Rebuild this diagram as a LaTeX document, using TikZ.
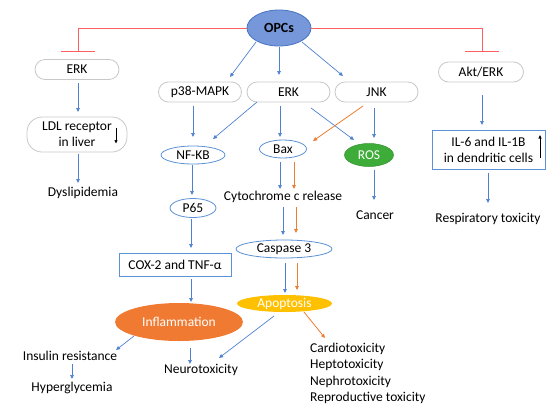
\documentclass[tikz,border=0pt]{standalone}
\usepackage{fontspec}
\setmainfont{Carlito}
\usetikzlibrary{shapes.geometric,arrows.meta,calc}
\definecolor{ablue}{RGB}{79,129,208}
\definecolor{aorange}{RGB}{237,125,49}
\definecolor{ared}{RGB}{255,95,95}
\definecolor{agray}{RGB}{200,200,200}
\definecolor{eblue}{RGB}{91,145,213}
\definecolor{opcfill}{RGB}{118,152,218}
\definecolor{opcdraw}{RGB}{68,114,196}
\definecolor{rosgreen}{RGB}{62,172,56}
\definecolor{inflor}{RGB}{240,122,50}
\definecolor{apopy}{RGB}{255,192,0}
\begin{document}
\begin{tikzpicture}[x=1pt,y=-1pt,
  every node/.style={font=\fontsize{13.5}{16}\selectfont, inner sep=0pt},
  gbox/.style={draw=agray, line width=0.8pt, rounded corners=10pt, minimum height=20pt},
  bell/.style={ellipse, draw=eblue, line width=0.8pt},
  brect/.style={draw=eblue, line width=0.9pt},
  barr/.style={draw=ablue, line width=0.7pt, -{Triangle[length=4pt,width=3.6pt]}},
  oarr/.style={draw=aorange, line width=0.8pt, -{Triangle[length=4pt,width=3.6pt]}},
  karr/.style={draw=black, line width=0.6pt, -{Triangle[length=3.5pt,width=3pt]}},
  inh/.style={draw=ared, line width=0.9pt, -{Bar[width=34pt,line width=0.9pt]}},
  wtxt/.style={text=white}
]
\useasboundingbox (0,0) rectangle (550,408);

% nodes
\node[ellipse, fill=opcfill, draw=opcdraw, line width=0.8pt, minimum width=64pt, minimum height=36pt,
      font=\fontsize{14}{16}\selectfont\bfseries] (opcs) at (279,28) {OPCs};
\node[gbox, minimum width=84pt] (erkL) at (77,69.5) {ERK};
\node[gbox, rounded corners=15pt, minimum width=100pt, minimum height=35pt, align=center] (ldl) at (77,134.5) {LDL receptor\\in liver};
\node (dys) at (83,193) {Dyslipidemia};
\node[gbox, minimum width=83pt] (p38) at (200,92) {p38-MAPK};
\node[gbox, minimum width=83pt] (erkM) at (288.5,92) {ERK};
\node[gbox, minimum width=83pt] (jnk) at (376.5,92) {JNK};
\node[gbox, minimum width=85pt] (akt) at (481,72) {Akt/ERK};
\node[bell, minimum width=64pt, minimum height=18pt] (nfkb) at (193,155) {NF-KB};
\node[bell, minimum width=47pt, minimum height=18pt] (bax) at (283,149) {Bax};
\node[ellipse, fill=rosgreen, draw=rosgreen!85!black, line width=0.5pt, wtxt, minimum width=49pt, minimum height=23pt] (ros) at (369,155) {ROS};
\node (cyt) at (283,197) {Cytochrome c release};
\node[bell, minimum width=46pt, minimum height=19pt] (p65) at (193,208) {P65};
\node[brect, minimum width=112pt, minimum height=23pt] (cox) at (175,265) {COX-2 and TNF-α};
\node[bell, minimum width=96pt, minimum height=18pt] (casp) at (284,249) {Caspase 3};
\node[ellipse, fill=apopy, wtxt, minimum width=95pt, minimum height=17pt] (apop) at (284.5,303.5) {Apoptosis};
\node[ellipse, fill=inflor, wtxt, minimum width=128pt, minimum height=38pt] (infl) at (179,322) {Inflammation};
\node (ins) at (70,356) {Insulin resistance};
\node (hyp) at (72,388) {Hyperglycemia};
\node (neuro) at (201,370) {Neurotoxicity};
\node[anchor=north west, align=left, font=\fontsize{13.5}{16.3}\selectfont] (cardio) at (310,343)
  {Cardiotoxicity\\Heptotoxicity\\Nephrotoxicity\\Reproductive toxicity};
\node (cancer) at (375,215) {Cancer};
\node[brect, minimum width=113pt, minimum height=39pt, align=center] (il) at (488.5,150) {IL-6 and IL-1B\\in dendritic cells};
\node (resp) at (488,219) {Respiratory toxicity};

% inhibition lines
\coordinate (inhL) at (78,52);
\coordinate (inhR) at (482,52);
\draw[inh] (opcs.west) -| (inhL);
\draw[inh] (opcs.east) -| (inhR);

% blue arrows
\draw[barr] ($(opcs)+(-23,14)$) -- ($(p38)+(30,-15)$);
\draw[barr] ($(opcs)+(0,19)$) -- ($(erkM)+(-9.5,-17)$);
\draw[barr] ($(opcs)+(23,14)$) -- ($(jnk)+(-33.5,-16)$);
\draw[barr] ($(erkL)+(1,13.5)$) -- ($(ldl)+(1,-22.5)$);
\draw[barr] ($(ldl)+(1,19.5)$) -- ($(dys)+(-5,-10)$);
\draw[barr] ($(p38)+(-7,14)$) -- ($(nfkb)+(0,-18)$);
\draw[barr] ($(erkM)+(-31.5,10)$) -- ($(nfkb)+(20,-16)$);
\draw[barr] ($(erkM)+(-8.5,14)$) -- ($(bax)+(-3,-12)$);
\draw[barr] ($(erkM)+(22.5,16)$) -- ($(ros)+(-15,-15)$);
\draw[oarr] ($(jnk)+(-13.5,14)$) -- ($(bax)+(30,-8)$);
\draw[barr] ($(jnk)+(-2.5,16)$) -- ($(ros)+(5,-17)$);
\draw[barr] ($(nfkb)+(-1,10)$) -- ($(p65)+(-1,-13)$);
\draw[barr] ($(bax)+(-3,13)$) -- ($(cyt)+(-3,-8)$);
\draw[oarr] ($(bax)+(11,13)$) -- ($(cyt)+(11,-8)$);
\draw[barr] ($(p65)+(-2,11)$) -- ($(cox)+(16,-17)$);
\draw[barr] ($(cox)+(16,14)$) -- ($(infl)+(12,-20)$);
\draw[barr] ($(cyt)+(0,10)$) -- ($(casp)+(-1,-14)$);
\draw[oarr] ($(cyt)+(13,10)$) -- ($(casp)+(12,-16)$);
\draw[barr] ($(casp)+(1,14)$) -- ($(apop)+(0.5,-10.5)$);
\draw[oarr] ($(casp)+(13,14)$) -- ($(apop)+(12.5,-13.5)$);
\draw[barr] ($(infl)+(-45,14)$) -- ($(ins)+(46,-6)$);
\draw[barr] ($(infl)+(11,26)$) -- ($(neuro)+(-11,-6)$);
\draw[barr] ($(apop)+(-10.5,12.5)$) -- ($(neuro)+(18,-12)$);
\draw[oarr] ($(apop)+(19.5,8.5)$) -- ($(cardio.north west)+(15,-5)$);
\draw[barr] ($(ins)+(2,8)$) -- ($(hyp)+(0,-9)$);
\draw[barr] ($(ros)+(5,15)$) -- ($(cancer)+(-1,-15)$);
\draw[barr] ($(akt)+(1,23)$) -- ($(il)+(-6.5,-25)$);
\draw[barr] ($(il)+(-0.5,23)$) -- ($(resp)+(0,-16)$);

% small indicator arrows
\draw[karr] ($(ldl)+(39,-7)$) -- ($(ldl)+(39,9)$);
\draw[karr] ($(il)+(51.5,8)$) -- ($(il)+(51.5,-15)$);
\end{tikzpicture}
\end{document}
